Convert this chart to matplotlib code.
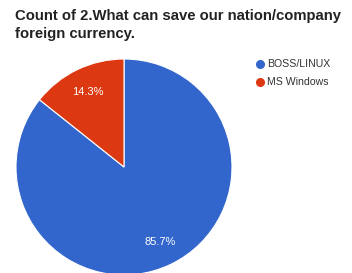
import matplotlib
matplotlib.use("Agg")
import matplotlib.pyplot as plt
from matplotlib.lines import Line2D

plt.rcParams["font.family"] = ["Liberation Sans", "DejaVu Sans"]

# data
labels = ["BOSS/LINUX", "MS Windows"]
values = [85.7, 14.3]
colors = ["#3366CC", "#DC3912"]
title = "Count of 2.What can save our nation/company\nforeign currency."

W, H = 352, 273
fig = plt.figure(figsize=(W / 100, H / 100), dpi=100)
fig.patch.set_facecolor("white")

# pie axes: centre (124,167) px, radius 108 px
cx, cy, r = 124, 167, 108
ax = fig.add_axes([(cx - r) / W, (H - cy - r) / H, 2 * r / W, 2 * r / H])
wedges, texts, autotexts = ax.pie(
    values, colors=colors, startangle=90, counterclock=False,
    autopct="%.1f%%", pctdistance=0.77,
    wedgeprops=dict(edgecolor="white", linewidth=0.8),
    textprops=dict(color="white", fontsize=8))
ax.set_xlim(-1, 1)
ax.set_ylim(-1, 1)
ax.set_aspect("auto")
ax.axis("off")

fig.text(15 / W, 1 - 9 / H, title, ha="left", va="top",
         fontsize=10.7, fontweight="bold", color="#222222", linespacing=1.4)

# legend
for i, (lab, col) in enumerate(zip(labels, colors)):
    y = 1 - (64 + 18 * i) / H
    fig.add_artist(Line2D([260 / W], [y], marker="o", markersize=5.5,
                          color=col, linestyle="none", transform=fig.transFigure))
    fig.text(267 / W, y, lab, ha="left", va="center", fontsize=7.6, color="#333333")

fig.savefig("out.png", dpi=100)
